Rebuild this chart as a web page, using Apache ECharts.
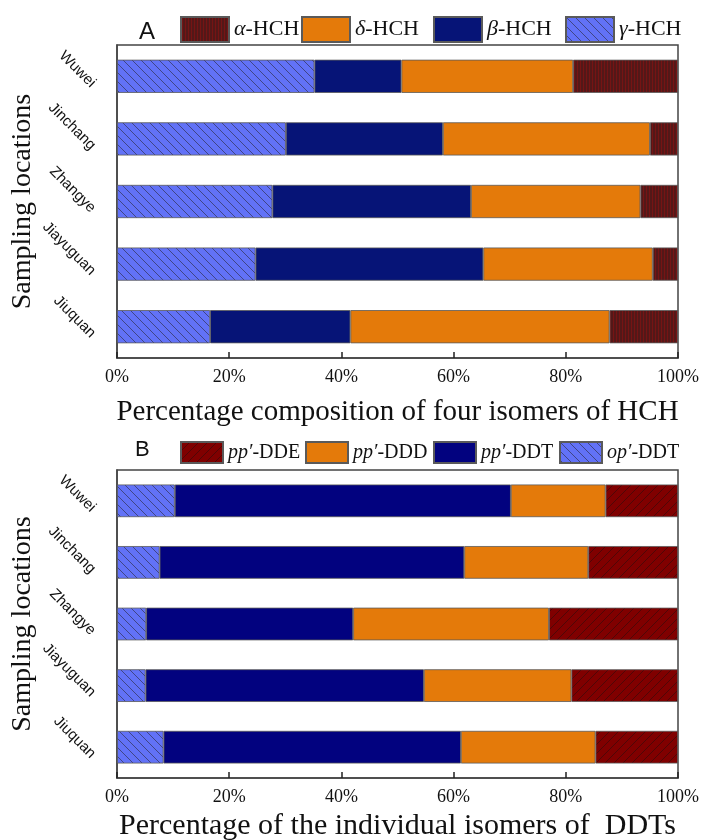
<!DOCTYPE html>
<html>
<head>
<meta charset="utf-8">
<script src="https://cdn.jsdelivr.net/npm/echarts@6/dist/echarts.min.js"></script>
<style>
  html, body { margin: 0; padding: 0; background: #fff; }
  #main { width: 704px; height: 840px; }
</style>
</head>
<body>
<div id="main"></div>
<script>
// sampling sites, top to bottom
var locations = ['Wuwei', 'Jinchang', 'Zhangye', 'Jiayuguan', 'Jiuquan'];
var xTicks = [0, 20, 40, 60, 80, 100];

// panel A, % of each HCH isomer
var gammaHCH = [35.2, 30.1, 27.7, 24.7, 16.6];
var betaHCH = [15.5, 28.0, 35.4, 40.6, 25.0];
var deltaHCH = [30.6, 36.9, 30.2, 30.2, 46.2];
var alphaHCH = [18.7, 5.0, 6.7, 4.5, 12.2];

// panel B, % of each DDT isomer
var opDDT = [10.3, 7.6, 5.2, 5.1, 8.3];
var ppDDT = [59.9, 54.3, 36.9, 49.6, 53.0];
var ppDDD = [16.9, 22.1, 34.9, 26.3, 24.0];
var ppDDE = [12.9, 16.0, 23.0, 19.0, 14.7];

function hatch(bg, line, dir, s) {
    var c = document.createElement('canvas');
    c.width = s; c.height = s;
    var g = c.getContext('2d');
    g.fillStyle = bg;
    g.fillRect(0, 0, s, s);
    g.strokeStyle = line;
    g.lineWidth = 0.9;
    g.beginPath();
    for (var k = -s; k <= s; k += s) {
        if (dir === 'back') {
            g.moveTo(k, 0); g.lineTo(k + s, s);
        } else {
            g.moveTo(k + s, 0); g.lineTo(k, s);
        }
    }
    g.stroke();
    return { image: c, repeat: 'repeat' };
}

function stripes(bg, line) {
    var c = document.createElement('canvas');
    c.width = 3; c.height = 3;
    var g = c.getContext('2d');
    g.fillStyle = bg;
    g.fillRect(0, 0, 3, 3);
    g.fillStyle = line;
    g.fillRect(1, 0, 1, 3);
    return { image: c, repeat: 'repeat' };
}

var blueHatch = hatch('#6272f7', '#3c3f78', 'back', 9);
var maroonHatch = hatch('#800000', '#4a0808', 'fwd', 9);
var maroonStripes = stripes('#531818', '#761414');
var orange = '#e47a0a';
var navyA = '#061477';
var navyB = '#02027f';

var serif = '"Liberation Serif", "Times New Roman", serif';
var sans = '"Liberation Sans", Arial, sans-serif';

function makeBar(name, data, color, axis) {
    return {
        name: name,
        type: 'bar',
        stack: 'p' + axis,
        xAxisIndex: axis,
        yAxisIndex: axis,
        barWidth: '53%',
        data: data,
        itemStyle: { color: color, borderColor: '#5a5a5a', borderWidth: 0.8 }
    };
}

function legendItem(name, left, top, w, h, size) {
    return {
        data: [name],
        left: left,
        top: top,
        padding: 0,
        icon: 'rect',
        itemWidth: w,
        itemHeight: h,
        selectedMode: false,
        textStyle: {
            fontFamily: serif,
            fontSize: size,
            color: '#111',
            rich: {
                i: { fontFamily: serif, fontSize: size, fontStyle: 'italic', color: '#111' },
                n: { fontFamily: serif, fontSize: size, color: '#111' }
            }
        },
        formatter: function (n) {
            var p = n.indexOf('-');
            return '{i|' + n.slice(0, p) + '}{n|' + n.slice(p) + '}';
        }
    };
}

function xAxisFor(grid, title, gap, size) {
    return {
        type: 'value',
        gridIndex: grid,
        min: xTicks[0],
        max: xTicks[xTicks.length - 1],
        interval: xTicks[1] - xTicks[0],
        axisLine: { show: true, lineStyle: { color: '#444', width: 1.5 } },
        axisTick: { show: true, inside: true, length: 6, lineStyle: { color: '#222', width: 1.5 } },
        splitLine: { show: false },
        axisLabel: { formatter: '{value}%', fontFamily: serif, fontSize: 18, color: '#111', margin: 10 },
        name: title,
        nameLocation: 'middle',
        nameGap: gap,
        nameTextStyle: { fontFamily: serif, fontSize: size, color: '#111' }
    };
}

function yAxisFor(grid) {
    return {
        type: 'category',
        gridIndex: grid,
        data: locations,
        inverse: true,
        axisLine: { show: true, lineStyle: { color: '#444', width: 1.5 } },
        axisTick: { show: false },
        axisLabel: {
            rotate: -45, margin: 15, verticalAlign: 'top', padding: [5, 0, 0, 0],
            fontFamily: sans, fontSize: 15, color: '#111'
        },
        name: 'Sampling locations',
        nameLocation: 'middle',
        nameGap: 80,
        nameMoveOverlap: false,
        nameRotate: 90,
        nameTextStyle: { fontFamily: serif, fontSize: 28, color: '#111', verticalAlign: 'bottom' }
    };
}

var chart = echarts.init(document.getElementById('main'));

var option = {
    backgroundColor: '#fff',
    animation: false,
    grid: [
        { left: 117, right: 26, top: 45, height: 313, show: true, borderColor: '#444', borderWidth: 1.5, containLabel: false, outerBoundsMode: 'none' },
        { left: 117, right: 26, top: 470, height: 308, show: true, borderColor: '#444', borderWidth: 1.5, containLabel: false, outerBoundsMode: 'none' }
    ],
    graphic: [
        { type: 'text', left: 139, top: 20, style: { text: 'A', font: '24px ' + sans, fill: '#111' } },
        { type: 'text', left: 135, top: 439, style: { text: 'B', font: '22px ' + sans, fill: '#111' } }
    ],
    legend: [
        legendItem('α-HCH', 180, 16, 48, 25, 22),
        legendItem('δ-HCH', 301, 16, 48, 25, 22),
        legendItem('β-HCH', 433, 16, 48, 25, 22),
        legendItem('γ-HCH', 565, 16, 48, 25, 22),
        legendItem('pp′-DDE', 180, 441, 42, 21, 20),
        legendItem('pp′-DDD', 305, 441, 42, 21, 20),
        legendItem('pp′-DDT', 433, 441, 42, 21, 20),
        legendItem('op′-DDT', 559, 441, 42, 21, 20)
    ],
    xAxis: [
        xAxisFor(0, 'Percentage composition of four isomers of HCH', 40, 29),
        xAxisFor(1, 'Percentage of the individual isomers of  DDTs', 33, 30)
    ],
    yAxis: [yAxisFor(0), yAxisFor(1)],
    series: [
        makeBar('γ-HCH', gammaHCH, blueHatch, 0),
        makeBar('β-HCH', betaHCH, navyA, 0),
        makeBar('δ-HCH', deltaHCH, orange, 0),
        makeBar('α-HCH', alphaHCH, maroonStripes, 0),
        makeBar('op′-DDT', opDDT, blueHatch, 1),
        makeBar('pp′-DDT', ppDDT, navyB, 1),
        makeBar('pp′-DDD', ppDDD, orange, 1),
        makeBar('pp′-DDE', ppDDE, maroonHatch, 1)
    ]
};

chart.setOption(option);
</script>
</body>
</html>
